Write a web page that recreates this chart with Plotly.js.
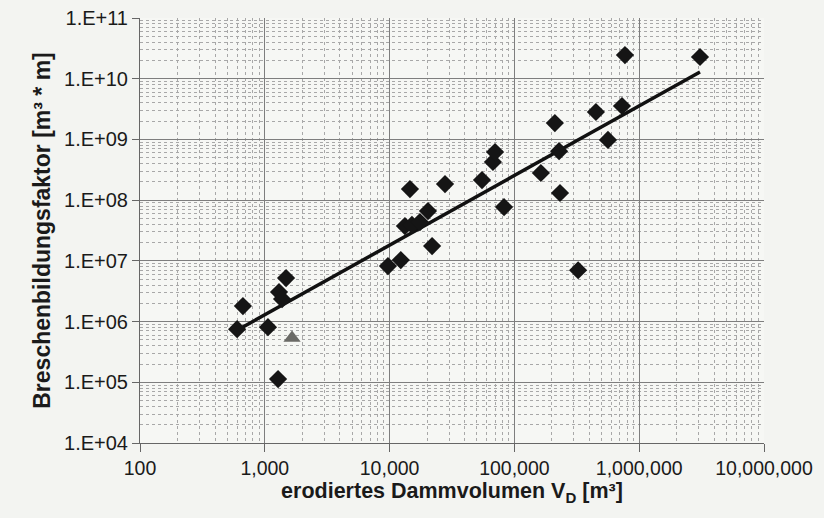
<!DOCTYPE html>
<html>
<head>
<meta charset="utf-8">
<script src="https://cdn.plot.ly/plotly-3.0.1.min.js"></script>
<style>html,body{margin:0;padding:0;background:#f3f4f1;}#chart{width:824px;height:518px;}</style>
</head>
<body>
<div id="chart"></div>
<script>
// Diamond data points (erodiertes Dammvolumen V_D [m³], Breschenbildungsfaktor [m³*m])
const volD = [600, 668, 1060, 1277, 1480, 1300, 1375, 9700, 12300, 13270, 15100, 17500, 14560, 20300, 21900, 27800, 55000, 67300, 70000, 82600, 163000, 211000, 228000, 232000, 324000, 450000, 562000, 728000, 769000, 3070000];
const factor = [7.5e5, 1.8e6, 8.1e5, 1.13e5, 5.2e6, 3.06e6, 2.35e6, 8.2e6, 1.03e7, 3.74e7, 3.9e7, 4.35e7, 1.52e8, 6.6e7, 1.75e7, 1.84e8, 2.14e8, 4.25e8, 6.2e8, 7.7e7, 2.8e8, 1.86e9, 6.4e8, 1.31e8, 7.0e6, 2.83e9, 9.8e8, 3.55e9, 2.45e10, 2.28e10];
// Triangle point
const volTri = [1653];
const factorTri = [5.35e5];
// Regression line end points
const volLine = [600, 3070000];
const factorLine = [7.2e5, 1.29e10];
// Tick labels
const xTickVals = [100, 1000, 10000, 100000, 1000000, 10000000];
const xTickText = ['100', '1,000', '10,000', '100,000', '1,000,000', '10,000,000'];
const yTickVals = [1e4, 1e5, 1e6, 1e7, 1e8, 1e9, 1e10, 1e11];
const yTickText = ['1.E+04', '1.E+05', '1.E+06', '1.E+07', '1.E+08', '1.E+09', '1.E+10', '1.E+11'];

const font = {family: 'Liberation Sans, Arial, sans-serif', color: '#1a1a1a'};

const traces = [
  {x: volLine, y: factorLine, mode: 'lines', type: 'scatter',
   line: {color: '#111', width: 3.5}, hoverinfo: 'skip'},
  {x: volD, y: factor, mode: 'markers', type: 'scatter',
   marker: {symbol: 'diamond', size: 14, color: '#151515'}},
  {x: volTri, y: factorTri, mode: 'markers', type: 'scatter',
   marker: {symbol: 'triangle-up', size: 15, color: '#6a6a66'}}
];

const gridMinor = {showgrid: true, gridcolor: '#a8a8a8', griddash: 'dot', gridwidth: 1, dtick: 'D1', ticks: ''};

const layout = {
  width: 824, height: 518,
  paper_bgcolor: '#f3f4f1', plot_bgcolor: '#f6f7f4',
  margin: {l: 140, r: 60, t: 18, b: 75},
  showlegend: false,
  font: font,
  xaxis: {
    type: 'log', range: [2, 7],
    tickmode: 'array', tickvals: xTickVals, ticktext: xTickText,
    tickfont: {size: 19.5, family: font.family, color: '#1a1a1a'},
    showgrid: true, gridcolor: '#7e7e7e', gridwidth: 1,
    minor: gridMinor,
    showline: true, linecolor: '#666', linewidth: 1,
    ticks: 'outside', ticklen: 8, tickcolor: '#666',
    zeroline: false,
    title: {text: '<b>erodiertes Dammvolumen V<sub>D</sub> [m³]</b>', font: {size: 21.5, family: font.family, color: '#1a1a1a'}, standoff: 2}
  },
  yaxis: {
    type: 'log', range: [4, 11],
    tickmode: 'array', tickvals: yTickVals, ticktext: yTickText,
    tickfont: {size: 20, family: font.family, color: '#1a1a1a'},
    showgrid: true, gridcolor: '#7e7e7e', gridwidth: 1,
    minor: gridMinor,
    showline: true, linecolor: '#666', linewidth: 1,
    ticks: 'outside', ticklen: 7, tickcolor: '#666',
    zeroline: false,
    title: {text: '<b>Breschenbildungsfaktor [m³ * m]</b>', font: {size: 23, family: font.family, color: '#1a1a1a'}, standoff: 6}
  }
};

Plotly.newPlot('chart', traces, layout, {displayModeBar: false, staticPlot: true});
</script>
</body>
</html>
